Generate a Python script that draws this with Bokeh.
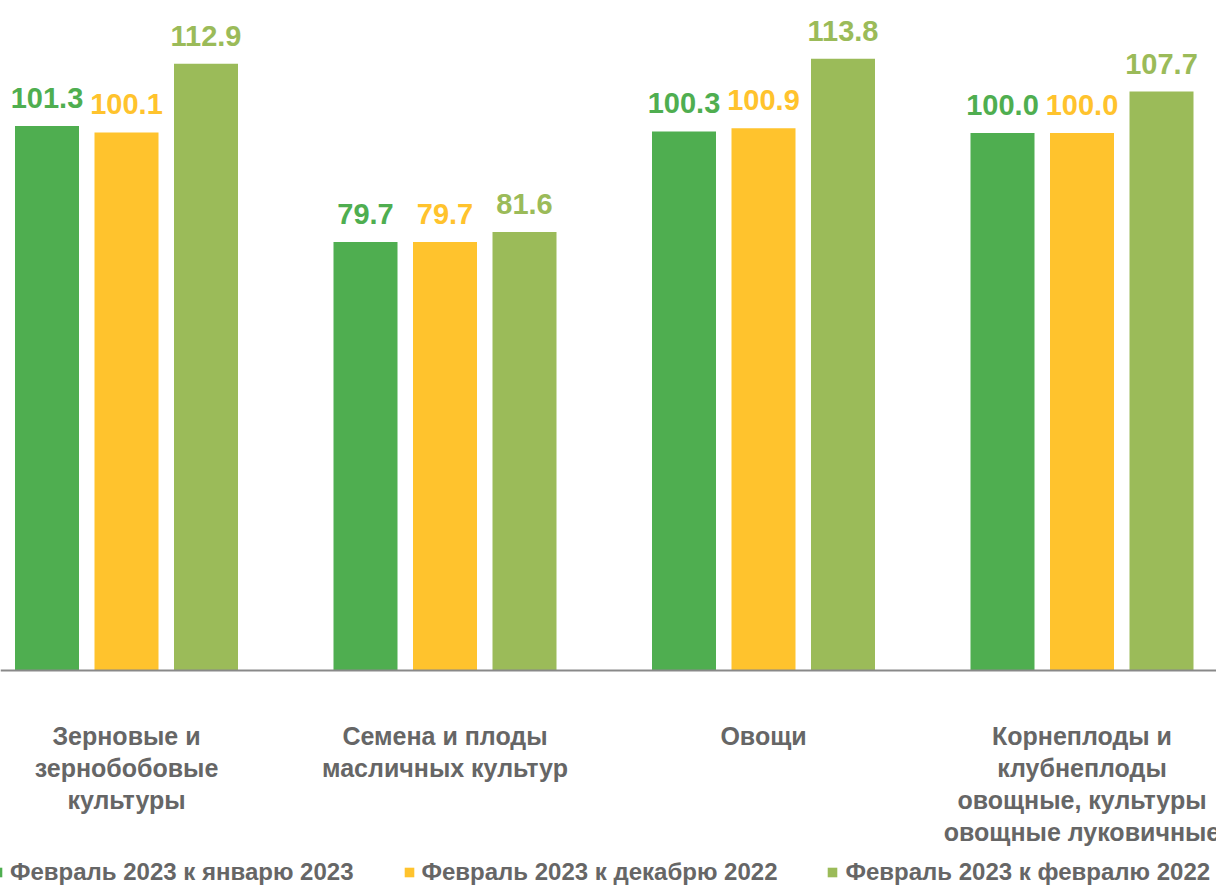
from bokeh.plotting import figure
from bokeh.models import Range1d, Span, ColumnDataSource, Legend, LegendItem
from bokeh.core.properties import value
from bokeh.embed import file_html
from bokeh.resources import INLINE

categories = ["Зерновые и\nзернобобовые\nкультуры",
              "Семена и плоды\nмасличных культур",
              "Овощи",
              "Корнеплоды и\nклубнеплоды\nовощные, культуры\nовощные луковичные"]
series_names = ["Февраль 2023 к январю 2023",
                "Февраль 2023 к декабрю 2022",
                "Февраль 2023 к февралю 2022"]
jan_2023 = [101.3, 79.7, 100.3, 100.0]
dec_2022 = [100.1, 79.7, 100.9, 100.0]
feb_2022 = [112.9, 81.6, 113.8, 107.7]
colors = ["#4FAE50", "#FFC32D", "#9BBB59"]

TEXT_GRAY = "#666666"
FONT = "Liberation Sans"

# layout (pixels, image coordinates)
W, H = 1216, 886
GROUP0_X = 126.0       # x of first group centre
GROUP_STEP = 318.5     # px between groups
BASE_Y = 670.0         # y of zero line
PX_PER_UNIT = 5.375

x0 = (0 - GROUP0_X) / GROUP_STEP
x1 = (W - GROUP0_X) / GROUP_STEP
y1 = BASE_Y / PX_PER_UNIT
y0 = (BASE_Y - H) / PX_PER_UNIT

p = figure(width=W, height=H, output_backend="svg", toolbar_location=None,
           x_range=Range1d(x0, x1), y_range=Range1d(y0, y1),
           min_border=0, min_border_left=0, min_border_right=0,
           min_border_top=0, min_border_bottom=0)
p.axis.visible = False
p.grid.visible = False
p.outline_line_color = None
p.background_fill_color = "white"

offset = 79.5 / GROUP_STEP
bar_w = 64.0 / GROUP_STEP

renderers = []
for k, (vals, col) in enumerate(zip([jan_2023, dec_2022, feb_2022], colors)):
    xs = [i + (k - 1) * offset for i in range(len(categories))]
    src = ColumnDataSource(dict(x=xs, top=vals, lbl=[f"{v:.1f}" for v in vals]))
    r = p.vbar(x="x", top="top", bottom=0, width=bar_w, source=src,
               fill_color=col, line_color=None)
    renderers.append(r)
    p.text(x="x", y="top", text="lbl", source=src, text_align="center",
           text_baseline="alphabetic", y_offset=-28,
           text_font=value(FONT), text_font_style="bold",
           text_font_size="29px", text_color=col)

p.add_layout(Span(location=0, dimension="width", line_color="#898989", line_width=2))

cat_y = (BASE_Y - 721) / PX_PER_UNIT
p.text(x=list(range(len(categories))), y=[cat_y] * len(categories), text=categories,
       text_align="center", text_baseline="top", text_line_height=1.15,
       text_font=value(FONT), text_font_style="bold", text_font_size="25px",
       text_color=TEXT_GRAY)

legend = Legend(items=[LegendItem(label=n, renderers=[r]) for n, r in zip(series_names, renderers)],
                orientation="horizontal", location=(-9, 0),
                glyph_width=12, glyph_height=12, label_standoff=7, spacing=49,
                padding=0, margin=0, border_line_color=None,
                background_fill_alpha=0,
                label_text_font=FONT, label_text_font_style="bold",
                label_text_font_size="24px", label_text_color=TEXT_GRAY)
p.add_layout(legend, "center")

open("out.html", "w").write(file_html(p, INLINE))
